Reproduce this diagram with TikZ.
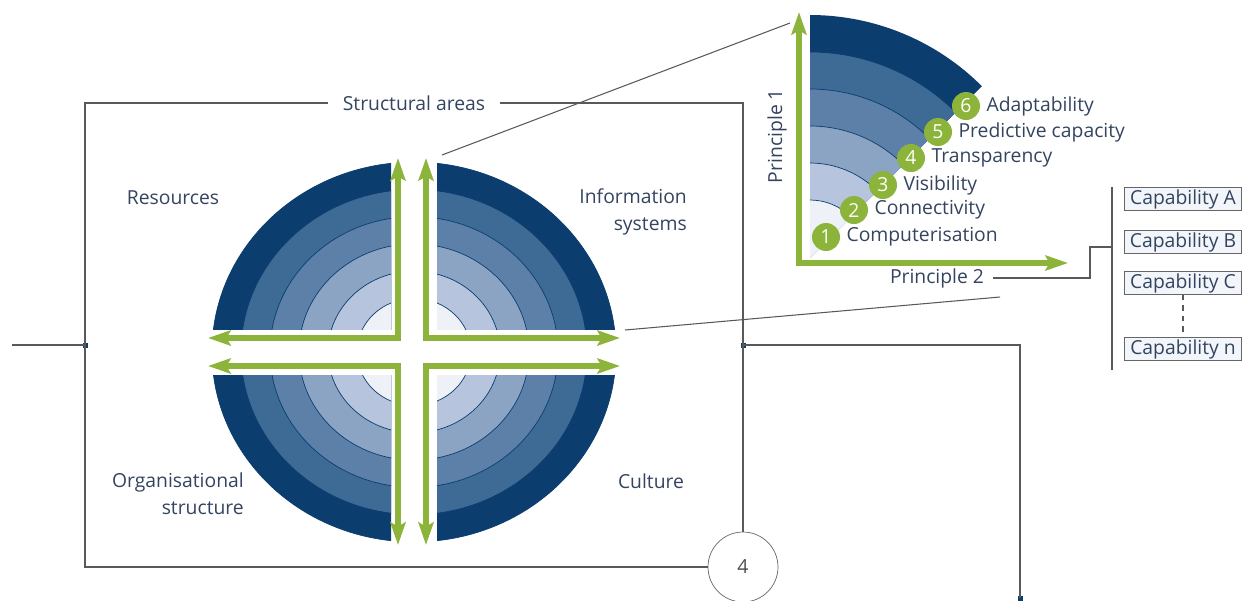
\documentclass[tikz,border=0pt]{standalone}
\usepackage{fontspec}
\setmainfont{Open Sans}
\usetikzlibrary{positioning, arrows.meta, calc}

\definecolor{navy}{HTML}{0B3D6E}
\definecolor{ringb}{HTML}{3E6A96}
\definecolor{ringc}{HTML}{5C80A8}
\definecolor{ringd}{HTML}{8CA4C4}
\definecolor{ringe}{HTML}{B6C4DD}
\definecolor{ringf}{HTML}{EEF2F8}
\definecolor{lgreen}{HTML}{8CB43A}
\definecolor{txtblue}{HTML}{34445F}
\definecolor{capfill}{HTML}{F2F6FB}

\tikzset{
  lbl/.style={text=txtblue, font=\fontsize{11}{15.5}\selectfont},
  conn/.style={draw=black!65, line width=0.6pt},
  dot/.style={rectangle, fill=navy, minimum size=0.1cm, inner sep=0pt},
  garrow/.style={draw=lgreen, line width=0.13cm, >={Stealth[length=0.45cm,width=0.3cm,inset=0.08cm]}, <->},
  badge/.style={circle, fill=lgreen, text=white, minimum size=0.56cm, inner sep=0pt, font=\fontsize{11}{12}\selectfont},
  capbox/.style={lbl, draw=black!60, fill=capfill, minimum width=2.34cm, minimum height=0.44cm, inner sep=1pt},
  stepcircle/.style={circle, draw=black!60, fill=white, minimum size=1.4cm, text=black!70, font=\fontsize{11}{12}\selectfont}
}

\begin{document}
\begin{tikzpicture}[x=0.02cm, y=-0.02cm]
  \useasboundingbox (0,0) rectangle (1249,600);

  % quadrants of the big circle
  \coordinate (mid) at (414,352);
  \foreach \cx/\cy/\sx/\sy in {391/329/-1/-1, 437/329/1/-1, 391/375/-1/1, 437/375/1/1}{
    \begin{scope}
      \clip (\cx,\cy) rectangle ++(\sx*210,\sy*200);
      \foreach \r/\c in {202/navy, 173/ringb, 144/ringc, 115/ringd, 86/ringe, 57/ringf}
        \filldraw[fill=\c, draw=navy, line width=0.4pt] (mid) ellipse [x radius=\r, y radius=0.94*\r];
    \end{scope}
  }

  \draw[garrow] (398,158) -- (398,338) -- (208,338);
  \draw[garrow] (426,158) -- (426,338) -- (620,338);
  \draw[garrow] (398,545) -- (398,366) -- (208,366);
  \draw[garrow] (426,545) -- (426,366) -- (620,366);

  \node[lbl] (res) at (173,198) {Resources};
  \node[lbl, align=right, anchor=east] (infsys) at (693,212) {Information\\systems};
  \node[lbl, align=right, anchor=east] (org) at (250,494) {Organisational\\structure};
  \node[lbl] (cult) at (651,481) {Culture};

  % frame
  \node[lbl, inner xsep=8pt] (areas) at (414,103) {Structural areas};
  \coordinate (ftl) at (85,103);
  \coordinate (ftr) at (743,103);
  \coordinate (fbl) at (85,567);
  \coordinate (lstub) at (12,345);
  \coordinate (rturn) at (1020,345);
  \node[dot] (ldot) at (85,345) {};
  \node[dot] (rdot) at (743,345) {};
  \node[dot] (bdot) at (1020,598) {};
  \node[stepcircle] (four) at (743,567) {4};

  \draw[conn] (areas.west) -- (ftl) -- (ldot.center) -- (fbl) -- (four.west);
  \draw[conn] (areas.east) -- (ftr) -- (rdot.center) -- (four.north);
  \draw[conn] (lstub) -- (ldot.center);
  \draw[conn] (rdot.center) -- (rturn) -- (bdot.center);

  % zoom lines
  \coordinate (zoomA) at (442,155);
  \coordinate (zoomB) at (790,23);
  \coordinate (zoomC) at (625,330);
  \coordinate (zoomD) at (1000,297);
  \draw[conn] (zoomA) -- (zoomB);
  \draw[conn] (zoomC) -- (zoomD);

  % maturity fan
  \coordinate (fan) at (810,258);
  \foreach \r/\c in {243/navy, 206/ringb, 169/ringc, 132/ringd, 95/ringe, 58/ringf}
    \fill[\c] (fan) -- ++(-90:\r) arc[start angle=-90, end angle=-45, radius=\r] -- cycle;
  \foreach \r in {206, 169, 132, 95, 58}
    \draw[navy, line width=0.4pt] (fan) ++(-90:\r) arc[start angle=-90, end angle=-45, radius=\r];
  \draw[garrow] (799,12) -- (799,263) -- (1068,263);

  \foreach \n/\x/\y/\t in {1/826/237/Computerisation, 2/854/210/Connectivity, 3/883/185/Visibility,
                           4/911/158/Transparency, 5/938/132/Predictive capacity, 6/966/106/Adaptability}{
    \node[badge] (lvl\n) at (\x,\y) {\n};
    \node[lbl, right=0pt of lvl\n] (lvltxt\n) {\t};
  }

  \node[lbl, rotate=90] (prin1) at (777,136) {Principle 1};
  \node[lbl, inner xsep=5pt] (prin2) at (937,278) {Principle 2};

  % capabilities
  \coordinate (p2turn) at (1090,278);
  \coordinate (brkT) at (1112,187);
  \coordinate (brkM) at (1112,247);
  \coordinate (brkB) at (1112,370);
  \draw[conn] (brkT) -- (brkB);
  \draw[conn] (prin2.east) -- (p2turn) |- (brkM);

  \node[capbox] (capA) at (1183,199) {Capability A};
  \node[capbox] (capB) at (1183,242) {Capability B};
  \node[capbox] (capC) at (1183,283) {Capability C};
  \node[capbox] (capN) at (1183,349) {Capability n};
  \draw[conn, dashed] (capC) -- (capN);
\end{tikzpicture}
\end{document}
